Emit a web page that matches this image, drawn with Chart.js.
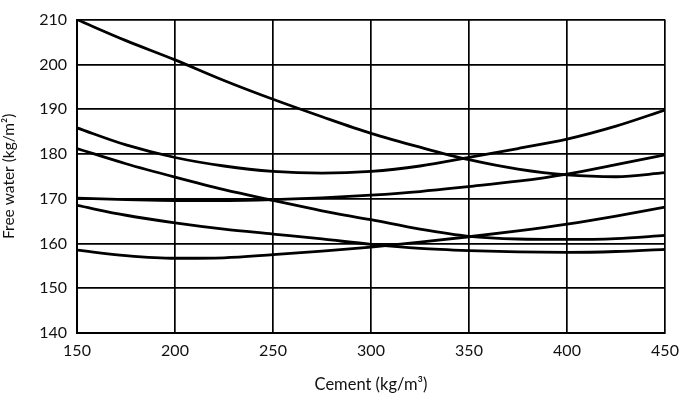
<!DOCTYPE html>
<html>
<head>
<meta charset="utf-8">
<script src="https://cdn.jsdelivr.net/npm/chart.js@4"></script>
<style>
  html, body { margin: 0; padding: 0; background: #fff; }
  canvas { display: block; }
</style>
</head>
<body>
<canvas id="waterChart" width="679" height="395"></canvas>
<script>
// cement content (kg/m3) sampled along each curve
const cement = [150, 175, 200, 225, 250, 275, 300, 325, 350, 375, 400, 425, 450];

// free water curves (kg/m2)
const curveA = [210, 205.3, 201, 196.4, 192.2, 188.3, 184.6, 181.5, 178.7, 176.6, 175.3, 174.9, 175.8];
const curveB = [185.8, 182, 179.2, 177.3, 176.1, 175.7, 176.1, 177.3, 179.2, 181.2, 183.3, 186.2, 189.8];
const curveC = [181.2, 177.8, 174.8, 172, 169.6, 167.3, 165.3, 163.2, 161.6, 161, 160.9, 161.1, 161.8];
const curveD = [170.1, 169.8, 169.6, 169.6, 169.8, 170.2, 170.8, 171.6, 172.7, 173.9, 175.5, 177.6, 179.8];
const curveE = [168.5, 166.3, 164.6, 163.2, 162.1, 161, 159.8, 158.9, 158.4, 158.1, 158, 158.2, 158.7];
const curveF = [158.5, 157.3, 156.7, 156.8, 157.5, 158.3, 159.2, 160.3, 161.5, 162.8, 164.3, 166.1, 168.1];

const xTicks = [150, 200, 250, 300, 350, 400, 450];
const yTicks = [140, 150, 160, 170, 180, 190, 200, 210];

const allCurves = [curveA, curveB, curveC, curveD, curveE, curveF];

const datasets = allCurves.map(vals => ({
    data: vals.map((v, i) => ({ x: cement[i], y: v })),
    borderColor: "#000",
    borderWidth: 2.8,
    pointRadius: 0,
    tension: 0.4,
    cubicInterpolationMode: "monotone",
    fill: false
}));

const fontFam = "Lato, 'Open Sans', sans-serif";

const ctx = document.getElementById("waterChart").getContext("2d");
const waterChart = new Chart(ctx, {
    type: "line",
    data: { datasets: datasets },
    options: {
        responsive: false,
        animation: false,
        layout: { padding: { left: 0, right: 0, top: 13, bottom: 0 } },
        plugins: {
            legend: { display: false },
            tooltip: { enabled: false }
        },
        scales: {
            x: {
                type: "linear",
                min: 150,
                max: 450,
                afterBuildTicks: scale => { scale.ticks = xTicks.map(v => ({ value: v })); },
                afterFit: scale => {
                    scale.height = 62;
                    scale.paddingRight = 14;
                },
                border: { display: true, color: "#000", width: 2 },
                grid: { color: "#000", lineWidth: 1.7, drawTicks: false },
                ticks: {
                    color: "#111",
                    padding: 8,
                    maxRotation: 0,
                    font: { family: fontFam, size: 16 }
                },
                title: {
                    display: true,
                    text: "Cement (kg/m³)",
                    color: "#111",
                    font: { family: fontFam, size: 16.5 },
                    padding: { top: 8, bottom: 0 }
                }
            },
            y: {
                min: 140,
                max: 210,
                afterBuildTicks: scale => { scale.ticks = yTicks.map(v => ({ value: v })); },
                afterFit: scale => { scale.width = 77; },
                border: { display: true, color: "#000", width: 2 },
                grid: { color: "#000", lineWidth: 1.7, drawTicks: false },
                ticks: {
                    color: "#111",
                    padding: 10,
                    font: { family: fontFam, size: 16 }
                },
                title: {
                    display: true,
                    text: "Free water (kg/m²)",
                    color: "#111",
                    font: { family: fontFam, size: 15.5 },
                    padding: { top: 0, bottom: 8 }
                }
            }
        }
    }
});
</script>
</body>
</html>
